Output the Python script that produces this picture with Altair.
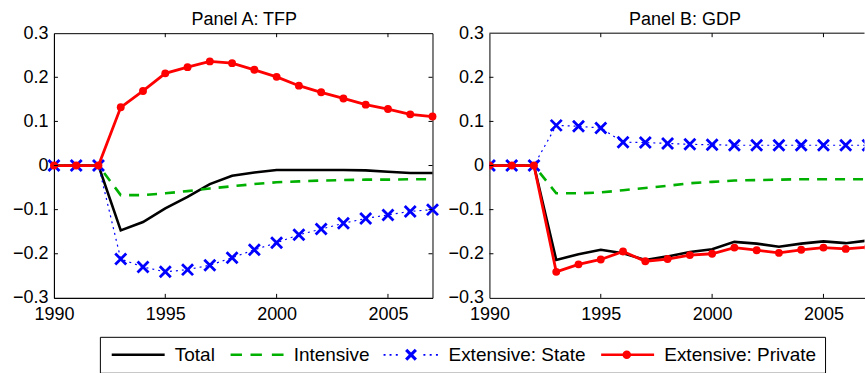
import math

import altair as alt
import pandas as pd

# ---------------------------------------------------------------- data
years = list(range(1990, 2008))
series_names = ["Total", "Intensive", "Extensive: State", "Extensive: Private"]

# Panel A: TFP
tfp_total = [0, 0, 0, -0.147, -0.128, -0.097, -0.071, -0.042, -0.023, -0.016,
             -0.010, -0.010, -0.010, -0.010, -0.011, -0.014, -0.017, -0.017]
tfp_intensive = [0, 0, 0, -0.067, -0.067, -0.063, -0.058, -0.052, -0.047, -0.042,
                 -0.038, -0.036, -0.034, -0.033, -0.032, -0.032, -0.031, -0.031]
tfp_state = [0, 0, 0, -0.212, -0.230, -0.241, -0.236, -0.226, -0.209, -0.191,
             -0.175, -0.157, -0.144, -0.131, -0.120, -0.112, -0.104, -0.100]
tfp_private = [0, 0, 0, 0.132, 0.169, 0.209, 0.223, 0.236, 0.232, 0.217,
               0.201, 0.181, 0.166, 0.152, 0.138, 0.128, 0.116, 0.111]

# Panel B: GDP
gdp_total = [0, 0, 0, -0.214, -0.201, -0.191, -0.199, -0.214, -0.206, -0.196,
             -0.190, -0.173, -0.177, -0.184, -0.177, -0.172, -0.176, -0.170]
gdp_intensive = [0, 0, 0, -0.063, -0.063, -0.061, -0.056, -0.051, -0.046, -0.040,
                 -0.037, -0.034, -0.033, -0.032, -0.031, -0.031, -0.031, -0.031]
gdp_state = [0, 0, 0, 0.091, 0.089, 0.085, 0.053, 0.052, 0.050, 0.048,
             0.047, 0.046, 0.046, 0.046, 0.046, 0.046, 0.046, 0.046]
gdp_private = [0, 0, 0, -0.241, -0.224, -0.213, -0.195, -0.217, -0.212, -0.203,
               -0.200, -0.186, -0.192, -0.198, -0.191, -0.186, -0.189, -0.185]

x_tick_values = [1990, 1995, 2000, 2005]
y_tick_values = [-0.3, -0.2, -0.1, 0, 0.1, 0.2, 0.3]
inner_x_ticks = [1995, 2000, 2005]
inner_y_ticks = [-0.2, -0.1, 0, 0.1, 0.2]

# ---------------------------------------------------------------- styles
FONT = "Liberation Sans"
BLACK, GREEN, BLUE, RED = "#000000", "#00b000", "#0000ff", "#ff0000"
series_colors = [BLACK, GREEN, BLUE, RED]

PANEL_W = 379
PANEL_H = 265
PANEL_B_W = 375.5          # the right panel runs off the page edge
X_MIN, X_MAX = 1990, 2007
X_MAX_B = X_MIN + PANEL_B_W * (X_MAX - X_MIN) / PANEL_W
TICK_LEN = 4

X_MARKER = "M-1,-1L1,1M-1,1L1,-1"


# filled outlines used as legend keys (unit box is -1..1)
def bar(x0, x1, h):
    return f"M{x0:.3f},{-h:.3f}H{x1:.3f}V{h:.3f}H{x0:.3f}Z"


def cross(r, w):
    pts = [(w, -r), (w, -w), (r, -w), (r, w), (w, w), (w, r),
           (-w, r), (-w, w), (-r, w), (-r, -w), (-w, -w), (-w, -r)]
    s = 1 / math.sqrt(2)
    rot = [((x - y) * s, (x + y) * s) for x, y in pts]
    return "M" + "L".join(f"{x:.3f},{y:.3f}" for x, y in rot) + "Z"


def dot(c):
    return f"M{-c},0A{c},{c} 0 1,1 {c},0A{c},{c} 0 1,1 {-c},0Z"


LH = 0.046
key_total = bar(-0.9, 0.96, LH)
key_intensive = bar(-0.9, -0.5, LH) + bar(-0.2, 0.2, LH) + bar(0.55, 0.96, LH)
key_state = (
    "".join(bar(u - 0.035, u + 0.035, 0.03) for u in (-0.93, -0.72, -0.5, 0.47, 0.69, 0.91))
    + cross(0.24, 0.055)
)
key_private = bar(-0.9, -0.1, LH) + bar(0.1, 0.96, LH) + dot(0.15)
legend_keys = [key_total, key_intensive, key_state, key_private]


def long_frame(columns):
    rows = []
    for name, values in zip(series_names, columns):
        for yr, v in zip(years, values):
            rows.append({"year": yr, "value": v, "series": name})
    return pd.DataFrame(rows)


def panel(df, title, width, x_max, clip, full_box, with_legend, title_dx):
    x_scale = alt.Scale(domain=[X_MIN, x_max], nice=False, zero=False)
    y_scale = alt.Scale(domain=[-0.3, 0.3], nice=False, zero=False)
    x_axis = alt.Axis(values=x_tick_values, format="d", title=None,
                      labelFlush=False, labelOverlap=False)
    y_axis = alt.Axis(values=y_tick_values, format=".1~f", title=None,
                      labelOverlap=False)
    xq = alt.X("year:Q", scale=x_scale, axis=x_axis)
    yq = alt.Y("value:Q", scale=y_scale, axis=y_axis)

    base = alt.Chart(df).encode(x=xq, y=yq)

    def only(name):
        return base.transform_filter(alt.datum.series == name)

    total = only("Total").mark_line(color=BLACK, strokeWidth=2.6, clip=clip)
    intensive = only("Intensive").mark_line(
        color=GREEN, strokeWidth=2.6, strokeDash=[10, 8], clip=clip)
    state_line = only("Extensive: State").mark_line(
        color=BLUE, strokeWidth=1.2, strokeDash=[2, 4], clip=clip)
    state_pts = only("Extensive: State").mark_point(
        shape=X_MARKER, size=121, strokeWidth=2.8, color=BLUE,
        filled=False, opacity=1, clip=clip)
    private_line = only("Extensive: Private").mark_line(
        color=RED, strokeWidth=2.8, clip=clip)
    private_pts = only("Extensive: Private").mark_point(
        shape="circle", size=62, color=RED, filled=True, opacity=1, clip=clip)

    # inward tick marks on the frame
    xt = pd.DataFrame({"year": inner_x_ticks})
    yt = pd.DataFrame({"value": inner_y_ticks})
    ticks = [
        alt.Chart(xt).mark_rule(color=BLACK, strokeWidth=1).encode(
            x=xq, y=alt.value(PANEL_H - TICK_LEN), y2=alt.value(PANEL_H)),
        alt.Chart(xt).mark_rule(color=BLACK, strokeWidth=1).encode(
            x=xq, y=alt.value(0), y2=alt.value(TICK_LEN)),
        alt.Chart(yt).mark_rule(color=BLACK, strokeWidth=1).encode(
            y=yq, x=alt.value(0), x2=alt.value(TICK_LEN)),
    ]
    if full_box:
        ticks.append(
            alt.Chart(yt).mark_rule(color=BLACK, strokeWidth=1).encode(
                y=yq, x=alt.value(width - TICK_LEN), x2=alt.value(width)))
    else:
        # top edge of the frame (the right edge lies beyond the page)
        ticks.append(
            alt.Chart(pd.DataFrame({"edge": [0]})).mark_rule(
                color=BLACK, strokeWidth=1).encode(
                x=alt.value(0), x2=alt.value(width), y=alt.value(0)))

    layers = [total, intensive, state_line, state_pts, private_line, private_pts] + ticks

    if with_legend:
        legend = alt.Legend(
            title=None, orient="none", legendX=46, legendY=304,
            direction="horizontal", columns=4,
            symbolSize=3249, clipHeight=20,
            labelFont=FONT, labelFontSize=19, labelColor=BLACK,
            labelOffset=8, columnPadding=11, padding=8, labelLimit=400,
            strokeColor=BLACK, fillColor="white",
            labelExpr=("datum.label == 'Extensive: Private' ? "
                       "datum.label + '\u00a0\u00a0' : datum.label"),
        )
        key_layer = base.transform_filter("false").mark_point(
            filled=True, opacity=1).encode(
            color=alt.Color("series:N", legend=legend,
                            scale=alt.Scale(domain=series_names, range=series_colors)),
            shape=alt.Shape("series:N", legend=legend,
                            scale=alt.Scale(domain=series_names, range=legend_keys)),
        )
        layers.append(key_layer)

    props = dict(width=width, height=PANEL_H,
                 title=alt.TitleParams(title, anchor="middle", frame="group",
                                       dx=title_dx))
    if full_box:
        props["view"] = alt.ViewBackground(stroke=BLACK, strokeWidth=1)
    return alt.layer(*layers).properties(**props)


tfp_df = long_frame([tfp_total, tfp_intensive, tfp_state, tfp_private])
gdp_df = long_frame([gdp_total, gdp_intensive, gdp_state, gdp_private])

panel_a = panel(tfp_df, "Panel A: TFP", PANEL_W, X_MAX, False, True, True, 1)
panel_b = panel(gdp_df, "Panel B: GDP", PANEL_B_W, X_MAX_B, True, False, False, 8)

chart = (
    alt.hconcat(panel_a, panel_b, spacing=57, bounds="flush")
    .properties(padding={"left": 11, "top": 10, "right": 0, "bottom": 0},
                background="white")
    .configure(font=FONT)
    .configure_axis(labelFont=FONT, labelFontSize=18, labelColor=BLACK,
                    domain=True, domainColor=BLACK, domainWidth=1,
                    ticks=False, grid=False, labelPadding=6)
    .configure_axisX(labelPadding=8)
    .configure_title(font=FONT, fontSize=18, fontWeight="normal",
                     color=BLACK, offset=-5)
    .configure_view(stroke=None)
)

chart.save("out.html", embed_options={"renderer": "svg", "actions": False})
